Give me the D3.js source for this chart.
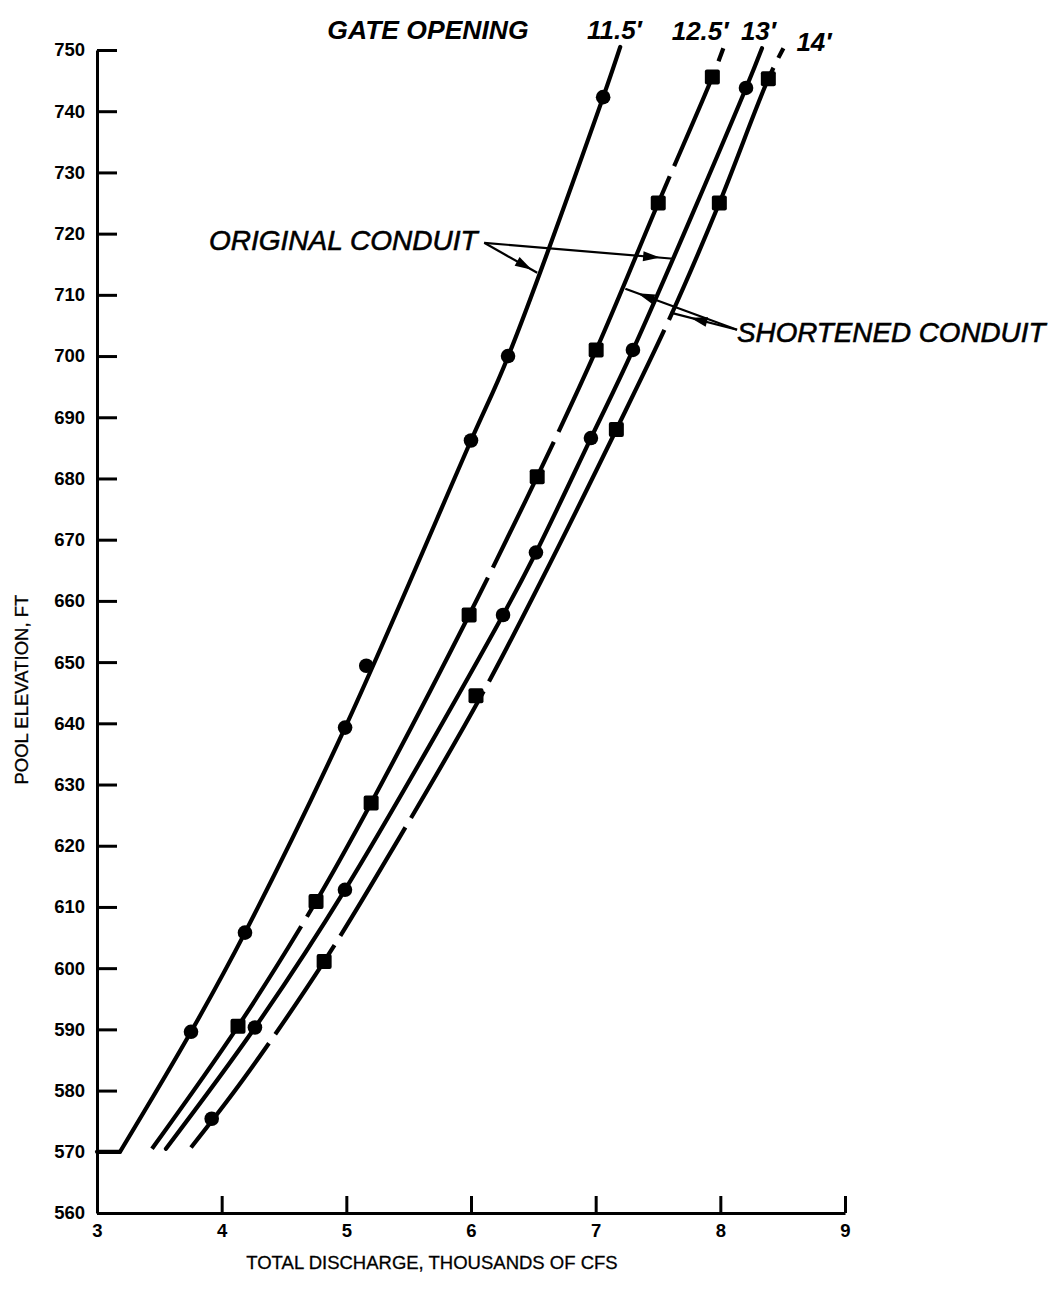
<!DOCTYPE html>
<html><head><meta charset="utf-8">
<script src="https://cdn.jsdelivr.net/npm/d3@7"></script>
<style>body{margin:0;background:#fff}</style>
</head><body>
<svg id="chart" width="1054" height="1289"></svg>
<script>
// ---------- DATA ----------
const xTickValues = [3, 4, 5, 6, 7, 8, 9];
const yTickValues = [560,570,580,590,600,610,620,630,640,650,660,670,680,690,700,710,720,730,740,750];

// gate opening curves (discharge in thousands cfs, pool elevation ft)
const stub115 = [[3.0,570.0],[3.185,570.0]];
const line115 = [[3.185,570.0],[3.754,589.6],[4.187,605.8],[4.99,639.3],[6.0,686.2],[6.297,699.9],[7.06,742.3],[7.197,750.5]];
const line125 = [[3.441,570.5],[4.131,590.5],[4.757,610.9],[5.199,627.0],[5.985,657.7],[6.531,680.3],[7.004,701.0],[7.502,725.0],[7.936,745.6],[8.024,750.3]];
const line13  = [[3.553,570.5],[4.267,590.3],[4.989,612.8],[6.257,657.7],[6.521,667.9],[6.962,686.6],[7.299,701.0],[8.206,743.8],[8.334,750.3]];
const line14  = [[3.754,570.7],[4.172,581.8],[4.822,601.1],[5.416,621.0],[6.082,644.5],[6.556,663.0],[7.166,688.0],[7.599,706.4],[7.992,725.0],[8.385,745.3],[8.506,750.3]];

// breaks in the broken (shortened conduit) lines, elevation of the break
const gaps125 = [747.3, 730.2, 686.8, 664.6, 607.6];
const gaps14  = [747.9, 705.1, 646.0, 623.8, 604.5, 588.5];

// observed points
const circles = [[3.754,589.6],[4.187,605.8],[4.99,639.3],[5.16,649.4],[6.0,686.2],[6.297,700.0],[7.06,742.3],
                 [4.267,590.3],[4.989,612.8],[6.257,657.7],[6.521,667.9],[6.962,686.6],[7.299,701.0],[8.206,743.8],
                 [3.92,575.4]];
const squares = [[4.131,590.5],[4.757,610.9],[5.199,627.0],[5.985,657.7],[6.531,680.3],[7.004,701.0],[7.502,725.0],[7.936,745.6],
                 [4.822,601.1],[6.04,644.5],[7.166,688.0],[7.992,725.0],[8.385,745.3]];

const gateLabels = ["11.5\u2032", "12.5\u2032", "13\u2032", "14\u2032"];

// ---------- CHART ----------
const svg = d3.select('#chart');
const FONT = '"Liberation Sans", Arial, Helvetica, sans-serif';
const x = d3.scaleLinear().domain([3, 9]).range([97, 845]);
const y = d3.scaleLinear().domain([560, 750]).range([1213, 50]);

// axes
const gy = svg.append('g').attr('transform', `translate(${x(3)},0)`)
  .call(d3.axisLeft(y).tickValues(yTickValues).tickSizeInner(-20).tickSizeOuter(0).tickPadding(12).tickFormat(d3.format('d')));
const gx = svg.append('g').attr('transform', `translate(0,${y(560)})`)
  .call(d3.axisBottom(x).tickValues(xTickValues).tickSizeInner(-17).tickSizeOuter(0).tickPadding(11).tickFormat(d3.format('d')));
[gx, gy].forEach(g => {
  g.select('.domain').attr('stroke', '#000').attr('stroke-width', 3);
  g.selectAll('.tick line').attr('stroke', '#000').attr('stroke-width', 3);
  g.selectAll('.tick text').attr('fill', '#000').style('font-family', FONT)
    .style('font-size', '18.5px').style('font-weight', 'bold');
});

// axis titles
svg.append('text').attr('x', x(5.687)).attr('y', y(560) + 56)
  .attr('text-anchor', 'middle').style('font-family', FONT).style('font-size', '18.5px')
  .attr('stroke', '#000').attr('stroke-width', 0.3)
  .text('TOTAL DISCHARGE, THOUSANDS OF CFS');
svg.append('text').attr('transform', `translate(28,${y(645.5)}) rotate(-90)`)
  .attr('text-anchor', 'middle').style('font-family', FONT).style('font-size', '18.5px')
  .attr('stroke', '#000').attr('stroke-width', 0.3)
  .text('POOL ELEVATION, FT');

// curves
const lineGen = d3.line().x(d => x(d[0])).y(d => y(d[1])).curve(d3.curveCatmullRom.alpha(0.5));
const linLine = d3.line().x(d => x(d[0])).y(d => y(d[1]));

function addCurve(data, gaps, gen) {
  const p = svg.append('path').attr('d', (gen || lineGen)(data))
    .attr('fill', 'none').attr('stroke', '#000').attr('stroke-width', 4.2).attr('stroke-linecap', 'round');
  if (gaps && gaps.length) {
    const node = p.node();
    const L = node.getTotalLength();
    const pos = gaps.map(e => {
      const ty = y(e); let lo = 0, hi = L;
      for (let i = 0; i < 40; i++) { const m = (lo + hi) / 2; if (node.getPointAtLength(m).y > ty) lo = m; else hi = m; }
      return (lo + hi) / 2;
    }).sort((a, b) => a - b);
    const g = 11; let cur = 0; const arr = [];
    pos.forEach(s => { arr.push(Math.max(0.1, s - g / 2 - cur), g); cur = s + g / 2; });
    arr.push(L - cur + 50, 0);
    p.attr('stroke-dasharray', arr.join(' ')).attr('stroke-linecap', 'butt');
  }
  return p;
}
addCurve(stub115, null, linLine);
addCurve(line115);
addCurve(line125, gaps125);
addCurve(line13);
addCurve(line14, gaps14);

// markers
svg.append('g').selectAll('circle').data(circles).join('circle')
  .attr('cx', d => x(d[0])).attr('cy', d => y(d[1])).attr('r', 7.3).attr('fill', '#000');
const S = 15;
svg.append('g').selectAll('rect').data(squares).join('rect')
  .attr('x', d => x(d[0]) - S / 2).attr('y', d => y(d[1]) - S / 2)
  .attr('width', S).attr('height', S).attr('rx', 2).attr('fill', '#000');

// header labels
svg.append('text').attr('x', x(5.655)).attr('y', y(751.8)).attr('text-anchor', 'middle')
  .style('font-family', FONT).style('font-size', '26.5px').style('font-weight', 'bold').style('font-style', 'italic')
  .text('GATE OPENING');
const gatePos = [[6.93, 751.8], [7.61, 751.6], [8.165, 751.6], [8.61, 749.8]];
gateLabels.forEach((t, i) => {
  svg.append('text').attr('x', x(gatePos[i][0])).attr('y', y(gatePos[i][1]))
    .style('font-family', FONT).style('font-size', '26px').style('font-style', 'italic').style('font-weight', 'bold')
    .text(t);
});

// annotations
svg.append('text').attr('x', x(3.898)).attr('y', y(717.3))
  .style('font-family', FONT).style('font-size', '28px').style('font-style', 'italic')
  .attr('stroke', '#000').attr('stroke-width', 0.6)
  .text('ORIGINAL CONDUIT');
svg.append('text').attr('x', x(8.134)).attr('y', y(702.3))
  .style('font-family', FONT).style('font-size', '27.8px').style('font-style', 'italic')
  .attr('stroke', '#000').attr('stroke-width', 0.6)
  .text('SHORTENED CONDUIT');

function leader(from, to, t) {
  const x0 = x(from[0]), y0 = y(from[1]), x1 = x(to[0]), y1 = y(to[1]);
  svg.append('line').attr('x1', x0).attr('y1', y0).attr('x2', x1).attr('y2', y1)
    .attr('stroke', '#000').attr('stroke-width', 2.2);
  const tx = x0 + (x1 - x0) * t, ty = y0 + (y1 - y0) * t;
  const len = Math.hypot(x1 - x0, y1 - y0), ux = (x1 - x0) / len, uy = (y1 - y0) / len;
  const hl = 17, hw = 5;
  const bx = tx - ux * hl, by = ty - uy * hl;
  svg.append('path').attr('d', `M${tx},${ty}L${bx - uy * hw},${by + ux * hw}L${bx + uy * hw},${by - ux * hw}Z`)
    .attr('fill', '#000');
}
leader([6.106, 718.5], [6.531, 713.6], 0.9);
leader([6.106, 718.5], [7.623, 715.9], 0.93);
leader([8.134, 704.3], [7.238, 711.0], 0.89);
leader([8.134, 704.3], [7.600, 707.1], 0.70);
</script>
</body></html>
